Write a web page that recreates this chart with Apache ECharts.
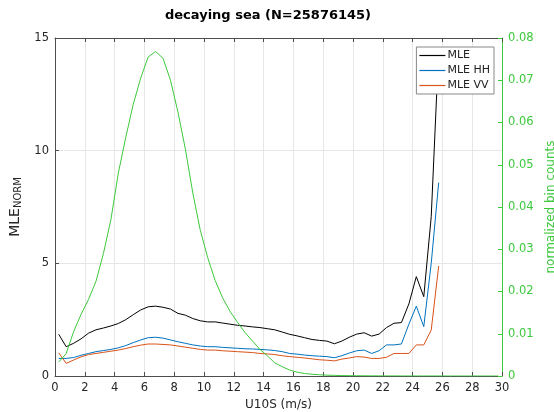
<!DOCTYPE html>
<html>
<head>
<meta charset="utf-8">
<script src="https://cdn.jsdelivr.net/npm/echarts@6/dist/echarts.min.js"></script>
<style>html,body{margin:0;padding:0;background:#fff}#c{width:554px;height:412px}</style>
</head>
<body>
<div id="c"></div>
<script>
const binCenters = [0.25,0.75,1.25,1.75,2.25,2.75,3.25,3.75,4.25,4.75,5.25,5.75,6.25,6.75,7.25,7.75,8.25,8.75,9.25,9.75,10.25,10.75,11.25,11.75,12.25,12.75,13.25,13.75,14.25,14.75,15.25,15.75,16.25,16.75,17.25,17.75,18.25,18.75,19.25,19.75,20.25,20.75,21.25,21.75,22.25,22.75,23.25,23.75,24.25,24.75,25.25,25.75,26.25,26.75,27.25,27.75,28.25,28.75,29.25,29.75];
const mle = [1.85,1.30,1.45,1.65,1.90,2.05,2.13,2.22,2.33,2.50,2.72,2.93,3.07,3.10,3.05,2.97,2.78,2.70,2.55,2.45,2.40,2.40,2.35,2.30,2.25,2.22,2.18,2.15,2.10,2.05,1.95,1.85,1.78,1.70,1.62,1.58,1.55,1.43,1.55,1.72,1.86,1.92,1.77,1.86,2.15,2.34,2.37,3.20,4.41,3.52,7.07,14.5];
const mleHH = [0.78,0.78,0.82,0.92,1.00,1.08,1.13,1.18,1.25,1.35,1.48,1.60,1.70,1.72,1.68,1.60,1.52,1.45,1.38,1.33,1.30,1.30,1.27,1.25,1.23,1.21,1.20,1.18,1.16,1.13,1.08,1.00,0.97,0.93,0.90,0.88,0.86,0.81,0.90,1.02,1.12,1.15,1.00,1.12,1.38,1.38,1.42,2.30,3.10,2.19,5.00,8.58];
const mleVV = [1.03,0.56,0.71,0.85,0.95,1.00,1.05,1.10,1.15,1.22,1.30,1.37,1.42,1.42,1.40,1.38,1.33,1.28,1.23,1.18,1.15,1.15,1.12,1.10,1.08,1.06,1.04,1.00,0.98,0.95,0.90,0.86,0.83,0.80,0.76,0.72,0.70,0.67,0.75,0.80,0.86,0.84,0.78,0.78,0.83,1.00,1.00,1.00,1.38,1.38,2.04,4.88];
const binCounts = [0.0033,0.0053,0.0105,0.0146,0.0181,0.0224,0.029,0.037,0.048,0.0565,0.0643,0.0705,0.0755,0.0768,0.0752,0.070,0.0625,0.0537,0.0433,0.0345,0.028,0.0226,0.0185,0.0153,0.0127,0.0103,0.0083,0.0063,0.0048,0.0031,0.0022,0.0014,0.0009,0.0006,0.0004,0.0003,0.0002,0.00015,0.0001,0.00008,0.00006,0.00005,0.00004,0.00003,0.00002,0.00002,0.00001,0.00001,0.00001,0.00001,0.00001,0.00001,0,0,0,0,0,0,0,0];
const xTicks = {min:0, max:30, step:2};
const yLeft = {min:0, max:15, step:5};
const yRight = {min:0, max:0.08, step:0.01};

const pair = (vals) => vals.map((v,i) => [binCenters[i], v]);
const FONT = 'DejaVu Sans';
const AX = '#4d4d4d';
const GREEN = '#3dc93d';

const chart = echarts.init(document.getElementById('c'), null, {renderer:'canvas'});
chart.setOption({
  animation:false,
  backgroundColor:'#fff',
  textStyle:{fontFamily:FONT},
  title:{text:'decaying sea (N=25876145)', left:263, top:4, textAlign:'center',
    textStyle:{fontFamily:FONT, fontSize:13, fontWeight:'bold', color:'#000'}},
  grid:{left:55, right:52, top:38, bottom:36, containLabel:false, outerBoundsMode:'none'},
  legend:{
    orient:'vertical', right:60, top:47,
    data:['MLE','MLE HH','MLE VV'],
    icon:'rect',
    backgroundColor:'#fff', borderColor:'#888', borderWidth:1,
    padding:[3,4,3,3], itemGap:4, itemWidth:26, itemHeight:1.2,
    textStyle:{fontFamily:FONT, fontSize:11, color:'#222', padding:[0,0,0,-3]}
  },
  xAxis:[{
    type:'value', min:xTicks.min, max:xTicks.max, interval:xTicks.step,
    name:'U10S (m/s)', nameLocation:'middle', nameGap:23,
    nameTextStyle:{fontFamily:FONT, fontSize:12, color:'#262626'},
    axisLine:{show:true, onZero:false, lineStyle:{color:AX, width:1}},
    axisTick:{show:true, inside:true, length:4, lineStyle:{color:AX}},
    axisLabel:{fontFamily:FONT, fontSize:11.5, color:'#262626', margin:6},
    splitLine:{show:true, lineStyle:{color:'#e6e6e6', width:1}}
  },{
    type:'value', position:'top', min:xTicks.min, max:xTicks.max, interval:xTicks.step,
    axisLine:{show:true, onZero:false, lineStyle:{color:AX, width:1}},
    axisTick:{show:true, inside:true, length:4, lineStyle:{color:AX}},
    axisLabel:{show:false}, splitLine:{show:false}
  }],
  yAxis:[{
    type:'value', min:yLeft.min, max:yLeft.max, interval:yLeft.step,
    name:'{a|MLE}{b|NORM}', nameLocation:'middle', nameGap:27, nameRotate:90,
    nameTextStyle:{fontFamily:FONT, color:'#262626',
      rich:{a:{fontFamily:FONT, fontSize:14, color:'#262626'},
            b:{fontFamily:FONT, fontSize:10, color:'#262626', verticalAlign:'bottom', padding:[7,0,0,0]}}},
    axisLine:{show:true, onZero:false, lineStyle:{color:AX, width:1}},
    axisTick:{show:true, inside:true, length:4, lineStyle:{color:AX}},
    axisLabel:{fontFamily:FONT, fontSize:11.5, color:'#262626', margin:6},
    splitLine:{show:true, lineStyle:{color:'#e6e6e6', width:1}}
  },{
    type:'value', position:'right', min:yRight.min, max:yRight.max, interval:yRight.step,
    name:'normalized bin counts', nameLocation:'middle', nameGap:40, nameRotate:90,
    nameTextStyle:{fontFamily:FONT, fontSize:12, color:GREEN},
    axisLine:{show:true, onZero:false, lineStyle:{color:GREEN, width:1}},
    axisTick:{show:true, inside:true, length:4, lineStyle:{color:GREEN}},
    axisLabel:{fontFamily:FONT, fontSize:11.5, color:GREEN, margin:6},
    splitLine:{show:false}
  }],
  series:[
    {name:'MLE', type:'line', data:pair(mle), symbol:'none', lineStyle:{color:'#000', width:1}, itemStyle:{color:'#000'}, clip:true},
    {name:'MLE HH', type:'line', data:pair(mleHH), symbol:'none', lineStyle:{color:'#0072BD', width:1}, itemStyle:{color:'#0072BD'}, clip:true},
    {name:'MLE VV', type:'line', data:pair(mleVV), symbol:'none', lineStyle:{color:'#D95319', width:1}, itemStyle:{color:'#D95319'}, clip:true},
    {name:'bin counts', type:'line', yAxisIndex:1, data:pair(binCounts), symbol:'none', lineStyle:{color:GREEN, width:1}, itemStyle:{color:GREEN}, clip:true}
  ]
});
</script>
</body>
</html>
